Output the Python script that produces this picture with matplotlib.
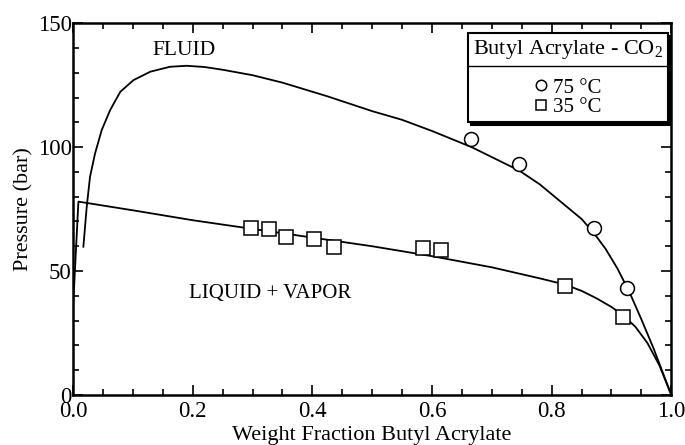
import matplotlib
matplotlib.use("Agg")
import matplotlib.pyplot as plt
from matplotlib.lines import Line2D
from matplotlib.ticker import MultipleLocator

plt.rcParams["font.family"] = ["Liberation Serif", "DejaVu Serif"]
plt.rcParams["mathtext.fontset"] = "custom"
plt.rcParams["mathtext.rm"] = "Liberation Serif"

# measured points
x_75 = [0.666, 0.746, 0.871, 0.926]
p_75 = [103.2, 93.1, 67.3, 43.1]
x_35 = [0.298, 0.327, 0.356, 0.402, 0.437, 0.585, 0.615, 0.823, 0.92]
p_35 = [67.4, 67.0, 63.7, 62.9, 59.7, 59.3, 58.3, 44.0, 31.5]

# model curves
curve75_x = [0.0173, 0.0229, 0.0284, 0.0368, 0.048, 0.062, 0.079, 0.101,
             0.129, 0.162, 0.19, 0.22, 0.25, 0.3, 0.35, 0.425, 0.5, 0.55,
             0.6, 0.666, 0.746, 0.78, 0.81, 0.85, 0.87, 0.89, 0.91,
             0.93, 0.95, 0.97, 0.985, 1.0]
curve75_p = [59.8, 75.9, 88.0, 97.4, 106.9, 114.9, 122.3, 127.0,
             130.4, 132.4, 132.8, 132.3, 131.2, 129.0, 126.0, 120.5, 114.5, 111.0,
             106.5, 100.0, 90.5, 85.0, 79.0, 71.0, 65.5, 59.0, 51.0,
             41.5, 30.5, 19.0, 9.5, 0.0]
curve35_x = [0.0, 0.009, 0.1, 0.2, 0.3, 0.4, 0.5, 0.6, 0.7, 0.781, 0.823,
             0.85, 0.875, 0.9, 0.92, 0.94, 0.96, 0.98, 1.0]
curve35_p = [35, 78, 74.5, 70.5, 67, 63.5, 60, 56, 51.5, 47, 44.5,
             42, 39, 35.5, 32, 27.5, 21, 12, 0]

fig = plt.figure(figsize=(6.85, 4.45), dpi=100)
ax = fig.add_axes([0.1066, 0.1124, 0.8734, 0.8356])

ax.plot(curve75_x, curve75_p, color="black", lw=1.3)
ax.plot(curve35_x, curve35_p, color="black", lw=1.3)
h75, = ax.plot(x_75, p_75, "o", ms=10, mfc="white", mec="black", mew=1.1,
               label="75 °C")
h35, = ax.plot(x_35, p_35, "s", ms=10, mfc="white", mec="black", mew=1.1,
               label="35 °C")

ax.set_xlim(0, 1)
ax.set_ylim(0, 150)
ax.xaxis.set_major_locator(MultipleLocator(0.2))
ax.xaxis.set_minor_locator(MultipleLocator(0.05))
ax.yaxis.set_major_locator(MultipleLocator(50))
ax.yaxis.set_minor_locator(MultipleLocator(10))
ax.xaxis.set_major_formatter(plt.FuncFormatter(lambda v, _: f"{v:.1f}"))
ax.tick_params(which="both", direction="in", top=True, right=True,
               width=1.2, labelsize=16.5)
ax.tick_params(which="major", length=7)
ax.tick_params(which="minor", length=4)
ax.tick_params(axis="x", pad=4)
ax.tick_params(axis="y", pad=1)
for sp in ax.spines.values():
    sp.set_linewidth(1.8)

ax.set_xlabel("Weight Fraction Butyl Acrylate", fontsize=16, labelpad=3)
ax.set_ylabel("Pressure (bar)", fontsize=16, labelpad=3)

ax.text(0.185, 139, "FLUID", fontsize=15.5, ha="center", va="center")
ax.text(0.33, 41, "LIQUID + VAPOR", fontsize=15, ha="center", va="center")

leg = ax.legend(handles=[h75, h35], title="Butyl Acrylate - CO$_2$",
                loc="upper right", bbox_to_anchor=(0.995, 0.973),
                fontsize=15, title_fontsize=16, alignment="center",
                frameon=True, fancybox=False, edgecolor="black",
                shadow={"color": "black", "alpha": 1.0},
                handlelength=0.6, handletextpad=0.3, labelspacing=0.0,
                borderpad=0.25, borderaxespad=0, markerscale=0.75)
leg.get_frame().set_linewidth(1.5)
leg._legend_box.sep = 12

fig.canvas.draw()
inv = fig.transFigure.inverted()
frame_bb = leg.get_frame().get_window_extent()
title_bb = leg.get_title().get_window_extent()
ysep = title_bb.y0 - 5
(x0, y0), (x1, _) = inv.transform([(frame_bb.x0, ysep), (frame_bb.x1, ysep)])
fig.add_artist(Line2D([x0, x1], [y0, y0], color="black", lw=1.0))

fig.savefig("out.png", dpi=100)
